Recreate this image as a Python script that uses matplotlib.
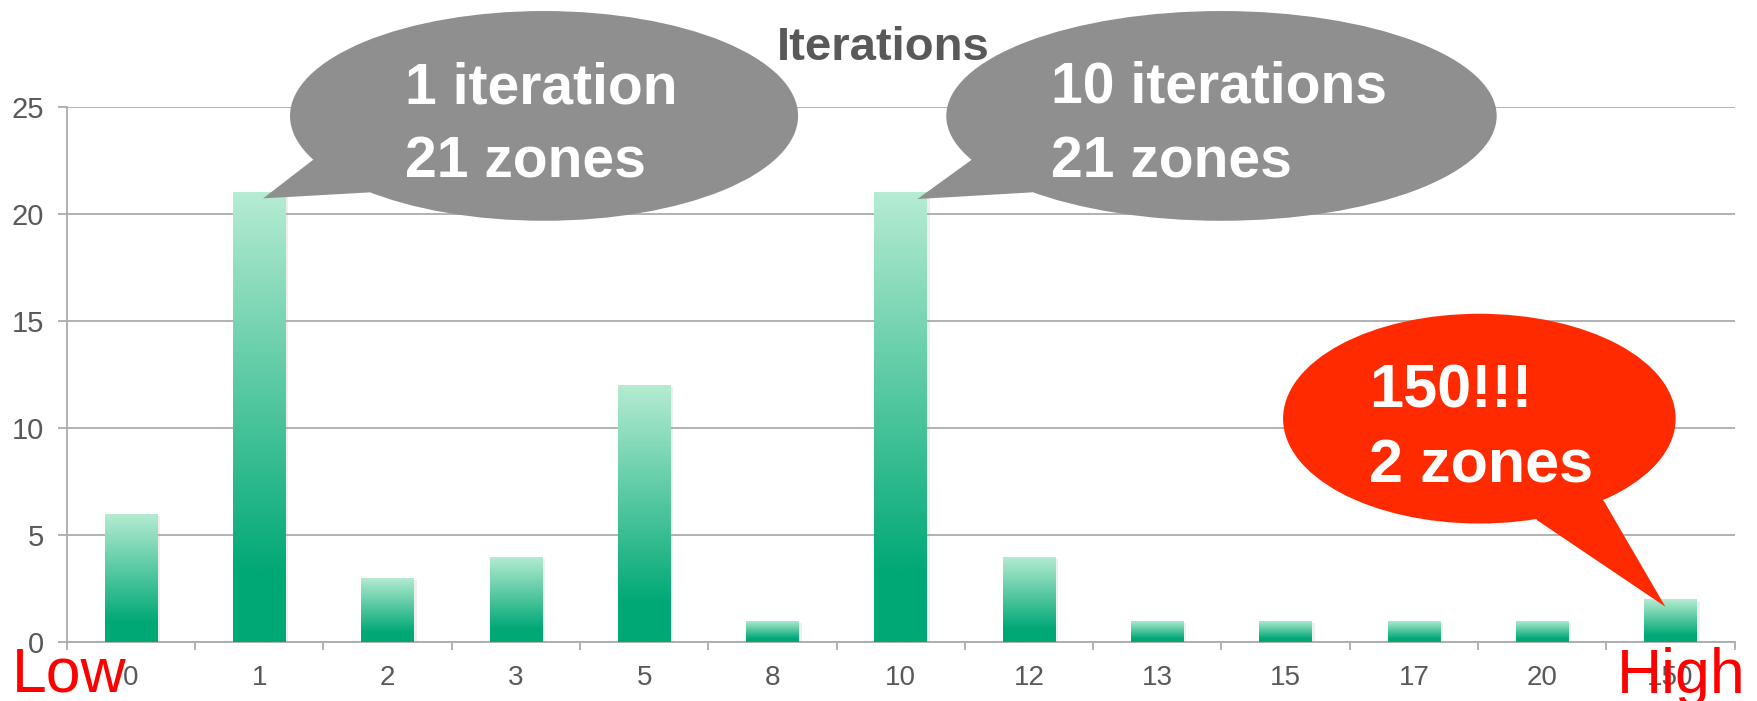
import numpy as np
import matplotlib.pyplot as plt
import matplotlib.patheffects as pe
from matplotlib.patches import Ellipse, Polygon
from matplotlib.colors import to_rgb

plt.rcParams['font.family'] = ['Liberation Sans', 'DejaVu Sans']

# zones per iteration count
iterations = ['0', '1', '2', '3', '5', '8', '10', '12', '13', '15', '17', '20', '150']
zones = [6, 21, 3, 4, 12, 1, 21, 4, 1, 1, 1, 1, 2]
yticks = [0, 5, 10, 15, 20, 25]

# speech bubbles pointing at particular bars
callout_bars = [1, 6, 12]
callout_lines = [['1 iteration', '21 zones'],
                 ['10 iterations', '21 zones'],
                 ['150!!!', '2 zones']]
callout_colors = ['#8f8f8f', '#8f8f8f', '#ff2a00']

grey_text = '#595959'
grid_col = '#ababab'
top_col = np.array(to_rgb('#b6ecd2'))
bottom_col = np.array(to_rgb('#00a876'))

fig = plt.figure(figsize=(17.57, 7.01), dpi=100)
ax = fig.add_axes([0.038, 0.0837, 0.9493, 0.7641])

x = np.arange(len(iterations))
bar_width = 0.41
bars = ax.bar(x, zones, width=bar_width, color='#00a876', zorder=3,
              path_effects=[pe.SimplePatchShadow(offset=(2, -1.5), shadow_rgbFace='#aaaaaa', alpha=0.2),
                            pe.Normal()])

# vertical gradient: light at the top, solid green near the base
t = np.linspace(0, 1, 256)
frac = np.clip(t / 0.85, 0, 1)[:, None]
grad = (top_col + frac * (bottom_col - top_col))[:, None, :]
for b in bars:
    x0, w, h = b.get_x(), b.get_width(), b.get_height()
    im = ax.imshow(grad, extent=[x0, x0 + w, 0, h], aspect='auto', origin='upper',
                   zorder=3.5, interpolation='bilinear')
    im.set_clip_path(b)

ax.set_xlim(-0.5, len(iterations) - 0.5)
ax.set_ylim(0, 25)
ax.set_yticks(yticks)
ax.set_xticks(x)
ax.set_xticklabels(iterations)
ax.set_xticks(np.arange(len(iterations) + 1) - 0.5, minor=True)

ax.yaxis.grid(True, color=grid_col, lw=1.3)
ax.set_axisbelow(True)
for s in ['top', 'right']:
    ax.spines[s].set_visible(False)
for s in ['left', 'bottom']:
    ax.spines[s].set_color(grid_col)
    ax.spines[s].set_linewidth(1.3)

ax.tick_params(axis='y', labelsize=21, labelcolor=grey_text, color=grid_col,
               length=6.3, width=1.3, pad=10)
ax.tick_params(axis='x', which='major', labelsize=20, labelcolor=grey_text, length=0, pad=16)
ax.tick_params(axis='x', which='minor', color=grid_col, length=6, width=1.3)

fig.text(0.5025, 1 - 60 / 701, 'Iterations', fontsize=34, fontweight='bold',
         color=grey_text, ha='center', va='baseline')

# bubble layout in data units
centres = [(3.22, 24.57), (8.50, 24.57), (10.51, 10.44)]
sizes = [(3.96, 9.79), (4.29, 9.79), (3.06, 9.79)]
tail_bases = [((1.42, 22.52), (1.86, 21.0)),
              ((6.55, 22.51), (7.02, 21.0)),
              ((11.48, 6.60), (10.96, 5.70))]
tip_offsets = [(0.03, -0.28), (0.13, -0.31), (-0.04, -0.34)]
text_x = [2.14, 7.17, 9.65]
baselines = [(25.15, 21.70), (25.19, 21.70), (10.95, 7.48)]
text_sizes = [41, 41, 44]

for i, bar_i in enumerate(callout_bars):
    col = callout_colors[i]
    tip = (bar_i + tip_offsets[i][0], zones[bar_i] + tip_offsets[i][1])
    ax.add_patch(Ellipse(centres[i], sizes[i][0], sizes[i][1], facecolor=col,
                         edgecolor='none', zorder=5, clip_on=False))
    ax.add_patch(Polygon([tail_bases[i][0], tip, tail_bases[i][1], centres[i]],
                         closed=True, facecolor=col, edgecolor='none', zorder=5, clip_on=False))
    for line, yb in zip(callout_lines[i], baselines[i]):
        ax.text(text_x[i], yb, line, fontsize=text_sizes[i], fontweight='bold', color='white',
                ha='left', va='baseline', zorder=6, clip_on=False)

fig.text(12 / 1757, 1 - 692 / 701, 'Low', fontsize=45, color='#ff0000',
         ha='left', va='baseline')
fig.text(1617 / 1757, 1 - 693 / 701, 'High', fontsize=45, color='#ff0000',
         ha='left', va='baseline')

fig.savefig('out.png', dpi=100)
